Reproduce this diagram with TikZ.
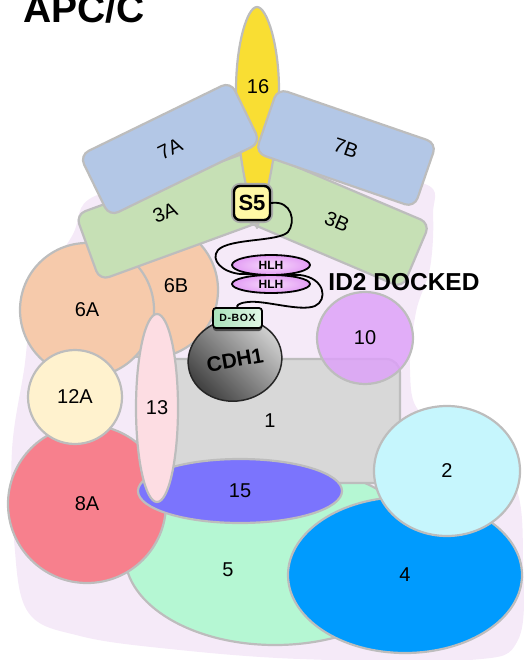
\documentclass[tikz,border=0pt]{standalone}
\usepackage{fontspec}
\setmainfont{Liberation Sans}
\newfontfamily\dboxfont[LetterSpace=6.0]{Liberation Sans}
\usetikzlibrary{shapes.geometric,shadows}

\definecolor{blobfill}{HTML}{F5EAF8}
\definecolor{edgegray}{HTML}{BDBDBD}
\definecolor{sixteen}{HTML}{F9DE33}
\definecolor{sevenblue}{HTML}{B3C7E6}
\definecolor{threegreen}{HTML}{C6E0B5}
\definecolor{sixpeach}{HTML}{F6CAAB}
\definecolor{twelvecream}{HTML}{FFF2CE}
\definecolor{eightred}{HTML}{F7808D}
\definecolor{thirteenpink}{HTML}{FDDDE3}
\definecolor{onegray}{HTML}{D8D8D8}
\definecolor{fifteenviolet}{HTML}{7B74FD}
\definecolor{fivemint}{HTML}{B5F7D3}
\definecolor{fourblue}{HTML}{009BFE}
\definecolor{twocyan}{HTML}{C6F6FD}
\definecolor{tenlilac}{HTML}{DDA0F9}
\definecolor{sfivefill}{HTML}{FFF9A6}
\definecolor{glowgray}{HTML}{A8A8A8}
\definecolor{hlhdark}{HTML}{E39DF5}
\definecolor{hlhlight}{HTML}{F7DAFA}
\definecolor{dboxdark}{HTML}{A9E2BA}
\definecolor{dboxlight}{HTML}{E2F7E7}
\definecolor{cdhdark}{HTML}{3C3C3C}
\definecolor{cdhlight}{HTML}{D4D4D4}

\begin{document}
\begin{tikzpicture}[x=1pt,y=-1pt,
  labelfont/.style={font=\fontsize{20}{24}\selectfont},
  part/.style={draw=edgegray, line width=2.2pt, labelfont, inner sep=0pt},
  oval/.style={part, ellipse},
  slab/.style={part, rectangle, rounded corners=10pt,
               minimum width=168pt, minimum height=68pt},
  marker/.style={draw=black, line width=1.8pt, inner sep=0pt},
  coil/.style={draw=black, line width=1.8pt, line cap=round, line join=round}
]
\useasboundingbox (0,0) rectangle (523,660);

% pale envelope of the whole complex
\fill[blobfill] plot[smooth cycle, tension=0.6] coordinates {
  (95,196) (200,179) (330,178) (425,184) (433,215) (430,268) (416,312)
  (410,370) (420,412) (470,432) (515,485) (523,560) (518,640) (470,660)
  (300,659) (170,649) (80,636) (28,612) (14,540) (12,450) (24,370)
  (35,300) (72,236)};

% subunits, back to front
\node[oval, fill=fivemint, minimum width=300pt, minimum height=180pt] (p5) at (275,555) {};
\node[part, rectangle, rounded corners=14pt, fill=onegray,
      minimum width=260pt, minimum height=124pt] (p1) at (270,421) {1};
\node[oval, fill=sixpeach, minimum width=136pt, minimum height=136pt] (p6B) at (150,290) {};
\node[oval, fill=sixpeach, minimum width=134pt, minimum height=134pt] (p6A) at (87,310) {6A};
\node[slab, fill=threegreen, minimum width=190pt, minimum height=70pt, rotate=20] (p3A) at (177,215) {};
\node[slab, fill=threegreen, minimum width=172pt, minimum height=70pt, rotate=-23] (p3B) at (337,222) {3B};
\path[part, fill=sixteen, line join=round]
  (257,228) .. controls (245,190) and (236,140) .. (236,90)
  .. controls (236,45) and (247,7) .. (257,7)
  .. controls (267,7) and (279,45) .. (279,90)
  .. controls (279,140) and (269,190) .. (257,228) -- cycle;
\node[slab, fill=sevenblue, rotate=26] (p7A) at (170,149) {7A};
\node[slab, fill=sevenblue, rotate=-19] (p7B) at (346,148) {7B};
\node[oval, fill=eightred, minimum width=158pt, minimum height=158pt] (p8A) at (87,504) {8A};
\node[oval, fill=twelvecream, minimum width=94pt, minimum height=94pt] (p12A) at (75,397) {12A};
\node[oval, fill=fifteenviolet, minimum width=204pt, minimum height=64pt] (p15) at (240,491) {15};
\node[oval, fill=thirteenpink, minimum width=42pt, minimum height=188pt] (p13) at (157,408) {13};
\node[oval, fill=fourblue, minimum width=234pt, minimum height=156pt] (p4) at (405,575) {4};
\node[oval, fill=twocyan, minimum width=146pt, minimum height=130pt] (p2) at (447,471) {2};
\node[oval, fill=tenlilac, fill opacity=0.82, text opacity=1,
      minimum width=96pt, minimum height=92pt] (p10) at (365,338) {10};

% labels placed off the shape centres
\node[labelfont] (t5) at (228,570) {5};
\node[labelfont] (t6B) at (176,286) {6B};
\node[labelfont, rotate=21] (t3A) at (165,213) {3A};
\node[labelfont] (t16) at (258,87) {16};

% coactivator bound to the complex
\node[oval, draw=black!85, line width=1.5pt, top color=cdhlight, bottom color=cdhdark,
      shading angle=-45, minimum width=94pt, minimum height=82pt, rotate=10,
      font=\bfseries\fontsize{21}{24}\selectfont] (cdh1) at (235,360) {CDH1};
\node[marker, rounded corners=3pt, left color=dboxdark, right color=dboxlight,
      minimum width=49pt, minimum height=20pt,
      drop shadow={shadow xshift=0pt, shadow yshift=-3pt, fill=black!75, opacity=0.9},
      font=\dboxfont\bfseries\fontsize{10.5}{12}\selectfont] (dbox) at (237.5,318) {D-BOX};
\node[draw=black, line width=2.4pt, fill=sfivefill, rounded corners=6pt,
      minimum width=36pt, minimum height=34pt, inner sep=0pt,
      preaction={draw=glowgray, line width=6pt},
      font=\bfseries\fontsize{22}{24}\selectfont] (S5) at (252,203) {S5};

% ID2 chain winding from S5 round the HLH pair to the D-box
\draw[coil] (S5.east) .. controls (292,200) and (296,222) .. (288,232)
  .. controls (278,242) and (230,238) .. (218,250)
  .. controls (210,260) and (222,272) .. (240,274)
  -- (300,275)
  .. controls (325,278) and (328,300) .. (315,306)
  .. controls (300,312) and (265,300) .. (248,302)
  .. controls (238,303) and (236,306) .. (dbox.north);

\node[marker, ellipse, inner color=hlhlight, outer color=hlhdark,
      minimum width=78pt, minimum height=18pt,
      font=\bfseries\fontsize{12}{12}\selectfont] (hlh2) at (271,284) {HLH};
\node[marker, ellipse, inner color=hlhlight, outer color=hlhdark,
      minimum width=78pt, minimum height=20pt,
      font=\bfseries\fontsize{12}{12}\selectfont] (hlh1) at (271,265) {HLH};

\node[font=\bfseries\fontsize{24.5}{26}\selectfont] (id2) at (404,282) {ID2 DOCKED};
\node[anchor=base west, inner sep=0pt, font=\bfseries\fontsize{39}{40}\selectfont] (title) at (23,23) {APC/C};
\end{tikzpicture}
\end{document}
